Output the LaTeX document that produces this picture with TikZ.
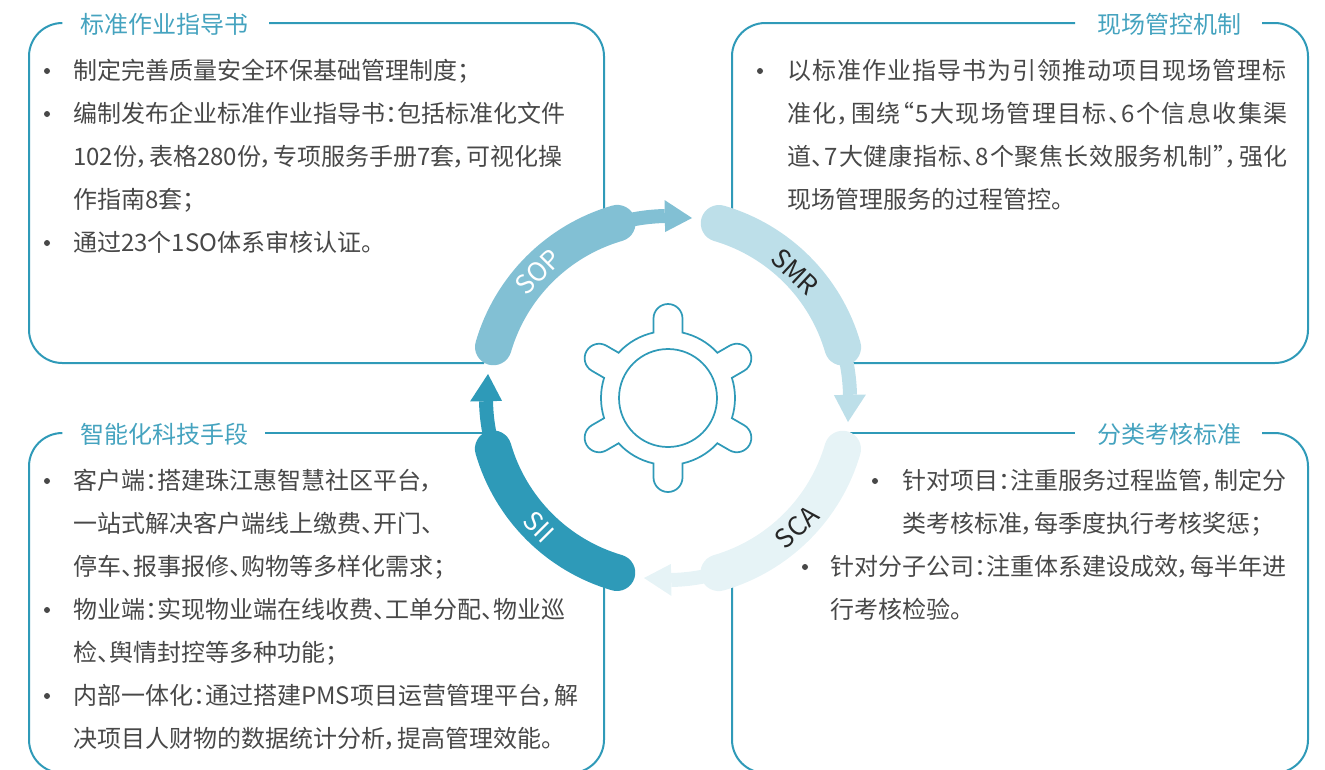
\documentclass[tikz,border=0pt]{standalone}
\usepackage{fontspec}
\setmainfont[RawFeature=+palt]{Noto Sans CJK SC}
\definecolor{linecol}{HTML}{2F9AB8}
\definecolor{titlecol}{HTML}{45A3BF}
\definecolor{textcol}{HTML}{484848}
\definecolor{sopcol}{HTML}{82C0D4}
\definecolor{smrcol}{HTML}{BDDFE9}
\definecolor{scacol}{HTML}{E6F3F6}
\definecolor{siicol}{HTML}{2E9AB8}
\tikzset{
  boxline/.style={draw=linecol,line width=1.5pt,rounded corners=25pt},
  gearline/.style={draw=linecol,line width=1.3pt},
  band/.style={line width=27.5pt,line cap=round},
  shaft/.style={line width=10.5pt},
  title/.style={anchor=base west,inner sep=0pt,text=titlecol,font=\fontsize{18}{18}\selectfont},
  txt/.style={anchor=base west,inner sep=0pt,text=textcol,font=\fontsize{18}{18}\selectfont},
  bul/.style={circle,fill=textcol,inner sep=0pt,minimum size=4.5pt},
  tag/.style={inner sep=0pt,font=\fontsize{19.5}{19.5}\selectfont}
}
\begin{document}
\begin{tikzpicture}[x=0.75pt,y=0.75pt]
    \path[use as bounding box,clip] (0,0) rectangle (1325,-769);
    % top left box
    \draw[boxline] (62,-23) -- (29,-23) -- (29,-363) -- (484,-363);
    \draw[boxline] (269,-23) -- (604,-23) -- (604,-210);
    \node[title] (titleSop) at (80,-33) {标准作业指导书};
    \node[bul] (bSop1) at (47,-71) {};
    \node[txt] (sop1) at (73,-79) {制定完善质量安全环保基础管理制度；};
    \node[bul] (bSop2) at (47,-114) {};
    \node[txt] (sop2) at (73,-122) {编制发布企业标准作业指导书：包括标准化文件};
    \node[txt] (sop3) at (73,-165) {102份，表格280份，专项服务手册7套，可视化操};
    \node[txt] (sop4) at (73,-208) {作指南8套；};
    \node[bul] (bSop3) at (47,-243) {};
    \node[txt] (sop5) at (73,-251) {通过23个1SO体系审核认证。};
    % top right box
    \draw[boxline] (1075,-23) -- (732,-23) -- (732,-210);
    \draw[boxline] (1262,-23) -- (1308,-23) -- (1308,-363) -- (850,-363);
    \node[title] (titleSmr) at (1097,-33) {现场管控机制};
    \node[bul] (bSmr1) at (760,-71) {};
    \node[txt] (smr1) at (787,-79) {\addfontfeature{LetterSpace=4.2}以标准作业指导书为引领推动项目现场管理标};
    \node[txt] (smr2) at (787,-122) {\addfontfeature{LetterSpace=5.9}准化，围绕“5大现场管理目标、6个信息收集渠};
    \node[txt] (smr3) at (787,-165) {\addfontfeature{LetterSpace=3.4}道、7大健康指标、8个聚焦长效服务机制”，强化};
    \node[txt] (smr4) at (787,-208) {现场管理服务的过程管控。};
    % bottom left box
    \draw[boxline] (62,-433) -- (29,-433) -- (29,-773) -- (604,-773) -- (604,-585);
    \draw[boxline] (265,-433) -- (484,-433);
    \node[title] (titleSii) at (80,-443) {智能化科技手段};
    \node[bul] (bSii1) at (47,-481) {};
    \node[txt] (sii1) at (73,-489) {客户端：搭建珠江惠智慧社区平台，};
    \node[txt] (sii2) at (73,-532) {一站式解决客户端线上缴费、开门、};
    \node[txt] (sii3) at (73,-575) {停车、报事报修、购物等多样化需求；};
    \node[bul] (bSii2) at (47,-610) {};
    \node[txt] (sii4) at (73,-618) {物业端：实现物业端在线收费、工单分配、物业巡};
    \node[txt] (sii5) at (73,-661) {检、舆情封控等多种功能；};
    \node[bul] (bSii3) at (47,-696) {};
    \node[txt] (sii6) at (73,-704) {内部一体化：通过搭建PMS项目运营管理平台，解};
    \node[txt] (sii7) at (73,-747) {决项目人财物的数据统计分析，提高管理效能。};
    % bottom right box
    \draw[boxline] (850,-433) -- (1075,-433);
    \draw[boxline] (1262,-433) -- (1308,-433) -- (1308,-773) -- (732,-773) -- (732,-585);
    \node[title] (titleSca) at (1097,-443) {分类考核标准};
    \node[bul] (bSca1) at (875,-481) {};
    \node[txt] (sca1) at (902,-489) {针对项目：注重服务过程监管，制定分};
    \node[txt] (sca2) at (902,-532) {类考核标准，每季度执行考核奖惩；};
    \node[bul] (bSca2) at (805,-567) {};
    \node[txt] (sca3) at (830,-575) {针对分子公司：注重体系建设成效，每半年进};
    \node[txt] (sca4) at (830,-618) {行考核检验。};
    \begin{scope}[shift={(668,-398)}]
    % SOP
    \draw[band,sopcol] (163.7:182) arc[start angle=163.7,end angle=106.2,radius=182];
    \draw[shaft,sopcol] (106.2:182) arc[start angle=106.2,end angle=91,radius=182];
    \fill[sopcol] (91:198) -- (82.4:181.6) -- (91:166) -- cycle;
    % SMR
    \draw[band,smrcol] (73.7:182) arc[start angle=73.7,end angle=16.2,radius=182];
    \draw[shaft,smrcol] (16.2:182) arc[start angle=16.2,end angle=1,radius=182];
    \fill[smrcol] (1:198) -- (-7.6:181.6) -- (1:166) -- cycle;
    % SCA
    \draw[band,scacol] (-16.3:182) arc[start angle=-16.3,end angle=-73.8,radius=182];
    \draw[shaft,scacol] (-73.8:182) arc[start angle=-73.8,end angle=-89,radius=182];
    \fill[scacol] (-89:198) -- (-97.6:181.6) -- (-89:166) -- cycle;
    % SII
    \draw[band,siicol] (-106.3:182) arc[start angle=-106.3,end angle=-163.8,radius=182];
    \draw[shaft,siicol] (-163.8:182) arc[start angle=-163.8,end angle=-179,radius=182];
    \fill[siicol] (-179:198) -- (-187.6:181.6) -- (-179:166) -- cycle;
    % gear
    \draw[gearline] (0,0) circle (49);
    \draw[gearline] (100.34:80.81) arc[start angle=180,end angle=0,radius=14.5] -- (77.5:67)
      arc[start angle=77.5,end angle=42.5,radius=67] -- (40.34:80.81)
      arc[start angle=120,end angle=-60,radius=14.5] -- (17.5:67)
      arc[start angle=17.5,end angle=-17.5,radius=67] -- (-19.66:80.81)
      arc[start angle=60,end angle=-120,radius=14.5] -- (-42.5:67)
      arc[start angle=-42.5,end angle=-77.5,radius=67] -- (-79.66:80.81)
      arc[start angle=0,end angle=-180,radius=14.5] -- (-102.5:67)
      arc[start angle=-102.5,end angle=-137.5,radius=67] -- (-139.66:80.81)
      arc[start angle=-60,end angle=-240,radius=14.5] -- (-162.5:67)
      arc[start angle=-162.5,end angle=-197.5,radius=67] -- (-199.66:80.81)
      arc[start angle=-120,end angle=-300,radius=14.5] -- (-222.5:67)
      arc[start angle=-222.5,end angle=-257.5,radius=67] -- cycle;
    \end{scope}
    \node[tag,white,rotate=45] (tagSop) at (538,-272) {SOP};
    \node[tag,black!85,rotate=-43] (tagSmr) at (795,-272) {SMR};
    \node[tag,black!85,rotate=43] (tagSca) at (797,-527) {SCA};
    \node[tag,white,rotate=-45] (tagSii) at (539,-527) {SII};
\end{tikzpicture}
\end{document}
